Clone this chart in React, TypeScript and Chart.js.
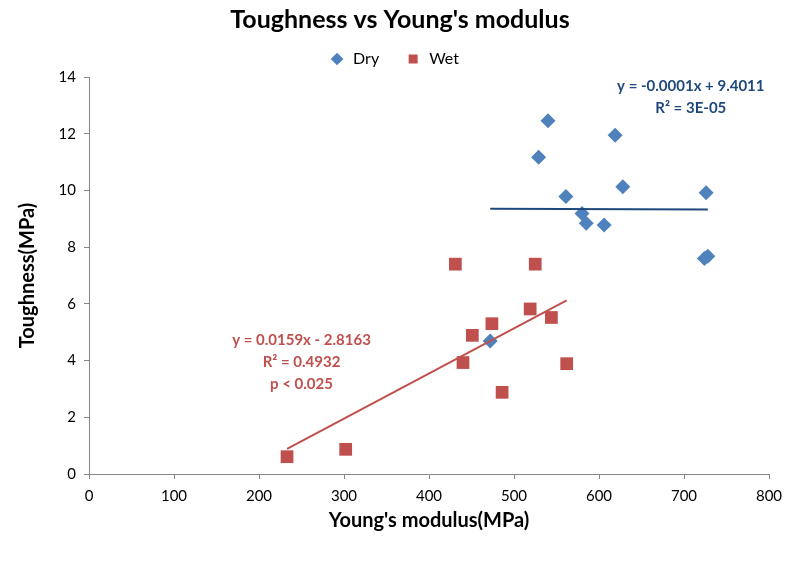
import React, { useEffect, useRef } from "react";
import { Chart, registerables } from "chart.js";

Chart.register(...registerables);

const dryX = [540, 619, 529, 628, 561, 726, 580, 585, 606, 724, 728, 472];
const dryY = [12.46, 11.95, 11.17, 10.13, 9.79, 9.92, 9.19, 8.84, 8.78, 7.6, 7.68, 4.69];

const wetX = [431, 525, 519, 544, 474, 451, 440, 562, 486, 233, 302];
const wetY = [7.4, 7.4, 5.82, 5.52, 5.3, 4.89, 3.93, 3.89, 2.88, 0.61, 0.87];

const drySlope = -0.0001;
const dryIntercept = 9.4011;
const wetSlope = 0.0159;
const wetIntercept = -2.8163;

const dryLabel = ["y = -0.0001x + 9.4011", "R² = 3E-05"];
const wetLabel = ["y = 0.0159x - 2.8163", "R² = 0.4932", "p < 0.025"];

const xTicks = [0, 100, 200, 300, 400, 500, 600, 700, 800];
const yTicks = [0, 2, 4, 6, 8, 10, 12, 14];

const BLUE = "#4F81BD";
const RED = "#C0504D";
const BLUE_TEXT = "#1F497D";
const FONT = "Lato, 'Open Sans', sans-serif";

function trend(xs: number[], m: number, b: number) {
  const lo = Math.min(...xs);
  const hi = Math.max(...xs);
  return [
    { x: lo, y: m * lo + b },
    { x: hi, y: m * hi + b },
  ];
}

export default function App() {
  const ref = useRef<HTMLCanvasElement | null>(null);

  useEffect(() => {
    document.body.style.margin = "0";
    const canvas = ref.current;
    if (!canvas) return;

    const labelsPlugin = {
      id: "trendLabels",
      afterDraw(chart: any) {
        const ctx = chart.ctx;
        const xs = chart.scales.x;
        const ys = chart.scales.y;
        ctx.save();
        ctx.font = `bold 15px ${FONT}`;
        ctx.textAlign = "center";
        ctx.textBaseline = "middle";
        ctx.fillStyle = BLUE_TEXT;
        const bx = xs.getPixelForValue(708);
        const by = ys.getPixelForValue(13.68);
        dryLabel.forEach((t, i) => ctx.fillText(t, bx, by + i * 22));
        ctx.fillStyle = RED;
        const rx = xs.getPixelForValue(250);
        const ry = ys.getPixelForValue(4.73);
        wetLabel.forEach((t, i) => ctx.fillText(t, rx, ry + i * 22));
        ctx.restore();
      },
    };

    const chart = new Chart(canvas, {
      type: "scatter",
      data: {
        datasets: [
          {
            label: "Dry",
            data: dryX.map((x, i) => ({ x, y: dryY[i] })),
            pointStyle: "rectRot",
            pointRadius: 7.5,
            pointHoverRadius: 7.5,
            backgroundColor: BLUE,
            borderColor: BLUE,
            borderWidth: 0,
            order: 2,
          },
          {
            label: "Wet",
            data: wetX.map((x, i) => ({ x, y: wetY[i] })),
            pointStyle: "rect",
            pointRadius: 9,
            pointHoverRadius: 9,
            backgroundColor: RED,
            borderColor: RED,
            borderWidth: 0,
            order: 3,
          },
          {
            label: "dryTrend",
            type: "line",
            data: trend(dryX, drySlope, dryIntercept),
            borderColor: "#1F497D",
            borderWidth: 2,
            pointRadius: 0,
            showLine: true,
            order: 1,
          } as any,
          {
            label: "wetTrend",
            type: "line",
            data: trend(wetX, wetSlope, wetIntercept),
            borderColor: RED,
            borderWidth: 2,
            pointRadius: 0,
            showLine: true,
            order: 1,
          } as any,
        ],
      },
      options: {
        animation: false,
        responsive: false,
        layout: { padding: { top: 5, right: 31, left: 31, bottom: 0 } },
        plugins: {
          title: {
            display: true,
            text: "Toughness vs Young's modulus",
            color: "#000",
            font: { family: FONT, size: 25, weight: "bold" },
            padding: { top: 0, bottom: 2 },
          },
          legend: {
            display: true,
            position: "top",
            labels: {
              usePointStyle: true,
              boxHeight: 9,
              color: "#000",
              font: { family: FONT, size: 16 },
              padding: 14,
              generateLabels: (c: any) => {
                const items = Chart.defaults.plugins.legend.labels.generateLabels(c);
                return items
                  .filter((it: any) => it.text === "Dry" || it.text === "Wet")
                  .map((it: any) => ({ ...it, text: it.text + "\u2003" }));
              },
            },
          },
          tooltip: { enabled: false },
        },
        scales: {
          x: {
            type: "linear",
            min: 0,
            max: 800,
            afterBuildTicks: (scale: any) => {
              scale.ticks = xTicks.map((v) => ({ value: v }));
            },
            ticks: {
              color: "#000",
              font: { family: FONT, size: 15 },
              padding: 8,
            },
            grid: {
              drawOnChartArea: false,
              drawTicks: true,
              tickLength: 5,
              color: "#868686",
            },
            border: { color: "#868686", width: 1 },
            title: {
              display: true,
              text: "Young's modulus(MPa)",
              color: "#000",
              font: { family: FONT, size: 20, weight: "bold" },
              padding: { top: 2, bottom: 32 },
            },
            afterFit: (scale: any) => {
              scale.height = 91;
            },
          },
          y: {
            type: "linear",
            min: 0,
            max: 14,
            afterBuildTicks: (scale: any) => {
              scale.ticks = yTicks.map((v) => ({ value: v }));
            },
            ticks: {
              color: "#000",
              font: { family: FONT, size: 15 },
              padding: 8,
            },
            grid: {
              drawOnChartArea: false,
              drawTicks: true,
              tickLength: 5,
              color: "#868686",
            },
            border: { color: "#868686", width: 1 },
            title: {
              display: true,
              text: "Toughness(MPa)",
              color: "#000",
              font: { family: FONT, size: 20, weight: "bold" },
              padding: { top: -15, bottom: 0 },
            },
            afterFit: (scale: any) => {
              scale.width = 58;
            },
          },
        },
      },
      plugins: [labelsPlugin],
    });

    return () => chart.destroy();
  }, []);

  return (
    <div style={{ width: 800, height: 565, position: "relative" }}>
      <canvas ref={ref} width={800} height={565} style={{ display: "block" }} />
    </div>
  );
}
